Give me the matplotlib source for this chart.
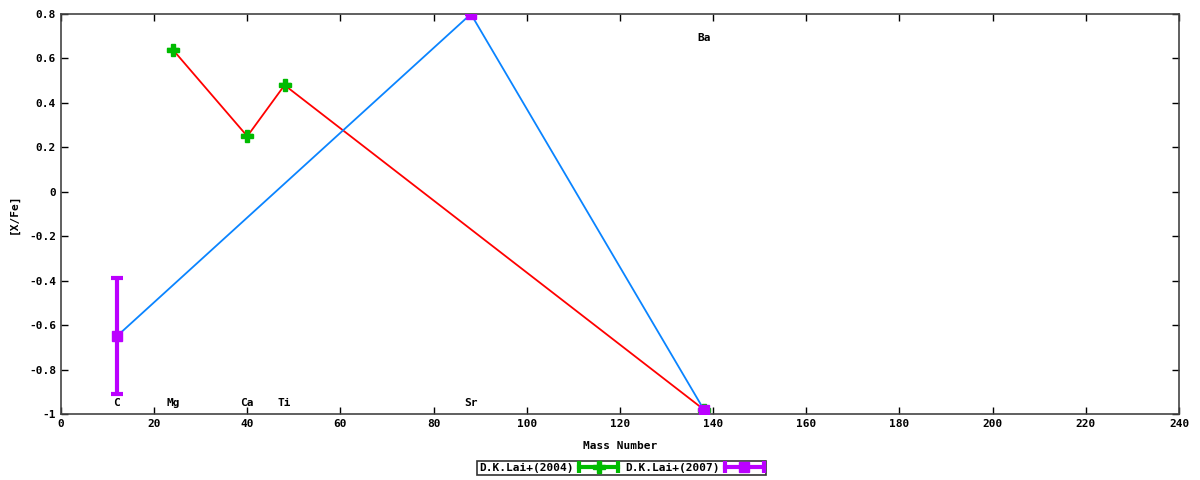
import matplotlib
matplotlib.use('Agg')
import matplotlib.pyplot as plt
from matplotlib.lines import Line2D
from matplotlib.legend_handler import HandlerBase

# D.K.Lai+(2004)
mass_04 = [24, 40, 48, 138]
xfe_04 = [0.64, 0.25, 0.48, -0.98]

# D.K.Lai+(2007)
mass_07 = [12, 88, 138]
xfe_07 = [-0.65, 0.80, -0.98]
err_07 = [0.26, 0.0, 0.0]

# element labels
el_names = ['C', 'Mg', 'Ca', 'Ti', 'Sr', 'Ba']
el_mass = [12, 24, 40, 48, 88, 138]
el_y = [-0.95, -0.95, -0.95, -0.95, -0.95, 0.69]

GREEN = '#00bb00'
PURPLE = '#bb00ff'


class ErrKeyHandler(HandlerBase):
    """gnuplot-style key sample: bar with end caps and a point in the middle."""
    def create_artists(self, legend, orig, xd, yd, w, h, fontsize, trans):
        c = orig.get_color()
        mk = orig.get_marker()
        ms = orig.get_markersize()
        y = yd + h / 2
        bar = Line2D([xd, xd + w], [y, y], color=c, lw=3, transform=trans)
        caps = Line2D([xd, xd + w], [y, y], color=c, ls='none', marker='|',
                      ms=9, mew=3, transform=trans)
        pt = Line2D([xd + w / 2], [y], color=c, ls='none', marker=mk, ms=ms,
                    mec=c, transform=trans)
        return [bar, caps, pt]


plt.rcParams['font.family'] = ['DejaVu Sans Mono']
plt.rcParams['font.weight'] = 'bold'
plt.rcParams['font.size'] = 8

fig = plt.figure(figsize=(12, 4.8), dpi=100)
ax = fig.add_axes([0.0508, 0.1375, 0.9317, 0.8333])

ax.plot(mass_04, xfe_04, color='#ff0000', lw=1.3, zorder=2)
ax.plot(mass_07, xfe_07, color='#0a84ff', lw=1.3, zorder=2)

ax.errorbar(mass_04, xfe_04, yerr=[0] * len(mass_04), fmt='P', color=GREEN,
            ms=9, mec=GREEN, elinewidth=3, capsize=4, capthick=3, zorder=3)
ax.errorbar(mass_07, xfe_07, yerr=err_07, fmt='s', color=PURPLE,
            ms=7, mec=PURPLE, elinewidth=3, capsize=4, capthick=3, zorder=4)

for n, m, y in zip(el_names, el_mass, el_y):
    ax.text(m, y, n, ha='center', va='center', fontsize=8, fontweight='bold')

ax.set_xlim(0, 240)
ax.set_ylim(-1, 0.8)
ax.set_xticks(range(0, 241, 20))
ax.set_yticks([-1, -0.8, -0.6, -0.4, -0.2, 0, 0.2, 0.4, 0.6, 0.8])
ax.set_yticklabels(['-1', '-0.8', '-0.6', '-0.4', '-0.2', '0', '0.2', '0.4', '0.6', '0.8'])
ax.tick_params(direction='in', top=True, right=True, length=5, width=1, labelsize=8)
for s in ax.spines.values():
    s.set_color('#444444')
    s.set_linewidth(1.2)

ax.set_xlabel('Mass Number', fontsize=8, fontweight='bold', labelpad=9)
ax.set_ylabel('[X/Fe]', fontsize=8, fontweight='bold', va='center')
ax.yaxis.set_label_coords(-0.042, 0.5)

h1 = Line2D([], [], color=GREEN, marker='P', ms=9)
h2 = Line2D([], [], color=PURPLE, marker='s', ms=7)
leg = fig.legend([h1, h2], ['D.K.Lai+(2004)', 'D.K.Lai+(2007)'], loc='center',
                 bbox_to_anchor=(0.518, 0.025), ncol=2, markerfirst=False,
                 frameon=True, fancybox=False, fontsize=8, handlelength=3.5,
                 borderpad=0.2, columnspacing=0.6, handletextpad=0.5,
                 handler_map={Line2D: ErrKeyHandler()})
leg.get_frame().set_edgecolor('black')
leg.get_frame().set_linewidth(1.2)

fig.savefig('out.png', dpi=100)
